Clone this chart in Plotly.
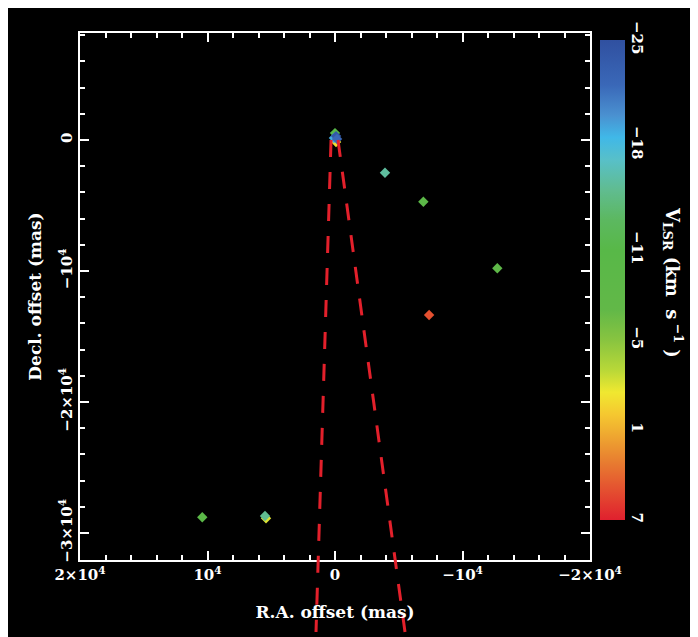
import plotly.graph_objects as go

# ---- data ----
# maser spots (R.A. offset, Decl. offset in mas, V_LSR in km/s)
ra_offset = [-80, 0, 80, -80, -160, -3920, -6930, -12730, -7380, 10410, 5410, 5490]
dec_offset = [-150, 530, 150, 300, 80, -2500, -4710, -9790, -13360, -28800, -28880, -28700]
v_lsr = [-1, -11, -19, -24, -22, -15.5, -9.5, -8.5, 5, -10, -2, -15]

# two dashed red lines (edges of a cone) starting near the origin
cone_left_ra = [310, 1490]
cone_left_dec = [0, -37560]
cone_right_ra = [-235, -5490]
cone_right_dec = [0, -37560]

x_tickvals = [20000, 10000, 0, -10000, -20000]
x_ticktext = ["2×10<sup>4</sup>", "10<sup>4</sup>", "0", "−10<sup>4</sup>", "−2×10<sup>4</sup>"]
y_tickvals = [0, -10000, -20000, -30000]
y_ticktext = ["0", "−10<sup>4</sup>", "−2×10<sup>4</sup>", "−3×10<sup>4</sup>"]

# colour bar: -25 at top, 7 at bottom
cbar_labels_v = [-25, -18, -11, -5, 1, 7]

# ---- layout geometry (page body has an 8 px margin) ----
OFF = 8
W, H = 698 - OFF, 637 - OFF


def xp(px):
    return (px - OFF) / W


def yp(py):
    return 1 - (py - OFF) / H


x_range = [20000, -20000]
y_range = [-32060, 8170]
x_dom = [xp(80), xp(590)]
y_dom = [yp(560), yp(33)]
# overlay axis with the same scale, extended to the bottom of the figure
y2_low = y_range[0] - (y_range[1] - y_range[0]) * y_dom[0] / (y_dom[1] - y_dom[0])

FONT = "DejaVu Serif"

colorscale = [
    [0.0, "#e0202e"],
    [0.0625, "#e45030"],
    [0.125, "#e88030"],
    [0.1875, "#f0b030"],
    [0.22, "#f5c830"],
    [0.266, "#f0e830"],
    [0.3125, "#b8d838"],
    [0.375, "#88c440"],
    [0.4375, "#62b848"],
    [0.5625, "#58b848"],
    [0.625, "#5cb860"],
    [0.6875, "#60bc90"],
    [0.75, "#58c0c8"],
    [0.797, "#40b8e8"],
    [0.844, "#4a90d0"],
    [0.906, "#3a68b8"],
    [1.0, "#3050a0"],
]

neg_v = [-v for v in v_lsr]

fig = go.Figure()

for ra, dec in ((cone_left_ra, cone_left_dec), (cone_right_ra, cone_right_dec)):
    fig.add_trace(go.Scatter(
        x=ra, y=dec, xaxis="x2", yaxis="y2", mode="lines",
        line=dict(color="#e3202b", width=3, dash="17px,15px"),
        hoverinfo="skip", showlegend=False,
    ))

fig.add_trace(go.Scatter(
    x=ra_offset, y=dec_offset, mode="markers", showlegend=False,
    marker=dict(
        symbol="diamond", size=8, color=neg_v, colorscale=colorscale,
        cmin=-7, cmax=25, line=dict(width=0), showscale=True,
        colorbar=dict(
            x=xp(600), xanchor="left", xpad=0,
            y=yp(280), yanchor="middle", ypad=0,
            len=480 / H, lenmode="fraction",
            thickness=25, thicknessmode="pixels",
            outlinewidth=0, ticks="",
            tickmode="array",
            tickvals=[-v for v in cbar_labels_v],
            ticktext=[str(v).replace("-", "−") for v in cbar_labels_v],
            tickangle=90,
            tickfont=dict(family=FONT, size=15, color="white", weight="bold"),
        ),
    ),
))

axis_common = dict(
    showline=True, linecolor="white", linewidth=2, mirror="allticks",
    ticks="inside", ticklen=9, tickwidth=2, tickcolor="white",
    showgrid=False, zeroline=False, automargin=False,
    tickfont=dict(family=FONT, size=15, color="white", weight="bold"),
    minor=dict(ticks="inside", ticklen=5, tickwidth=1.5, tickcolor="white",
               dtick=2000, tick0=0, showgrid=False),
)

fig.update_layout(
    width=W, height=H,
    margin=dict(l=0, r=0, t=0, b=0),
    paper_bgcolor="black",
    plot_bgcolor="rgba(0,0,0,0)",
    xaxis=dict(
        **axis_common, domain=x_dom, range=x_range, autorange=False,
        tickmode="array", tickvals=x_tickvals, ticktext=x_ticktext,
        anchor="y",
        title=dict(text="R.A. offset (mas)", standoff=23,
                   font=dict(family=FONT, size=17, color="white", weight="bold")),
    ),
    yaxis=dict(
        **axis_common, domain=y_dom, range=y_range, autorange=False,
        tickmode="array", tickvals=y_tickvals, ticktext=y_ticktext,
        tickangle=-90, anchor="x",
        title=dict(text="Decl. offset (mas)", standoff=10,
                   font=dict(family=FONT, size=17, color="white", weight="bold")),
    ),
    xaxis2=dict(domain=x_dom, range=x_range, autorange=False, visible=False,
                anchor="y2", showgrid=False, zeroline=False),
    yaxis2=dict(domain=[0, y_dom[1]], range=[y2_low, y_range[1]], autorange=False,
                visible=False, anchor="x2", showgrid=False, zeroline=False),
    annotations=[
        dict(text="V<sub>LSR</sub>\u00a0(km\u00a0\u00a0s<sup>\u00a0−1</sup>\u00a0)",
             xref="paper", yref="paper", xanchor="center", yanchor="middle",
             x=xp(673), y=yp(282), showarrow=False, textangle=90,
             font=dict(family=FONT, size=18, color="white", weight="bold")),
    ],
)

fig.write_html("out.html")
